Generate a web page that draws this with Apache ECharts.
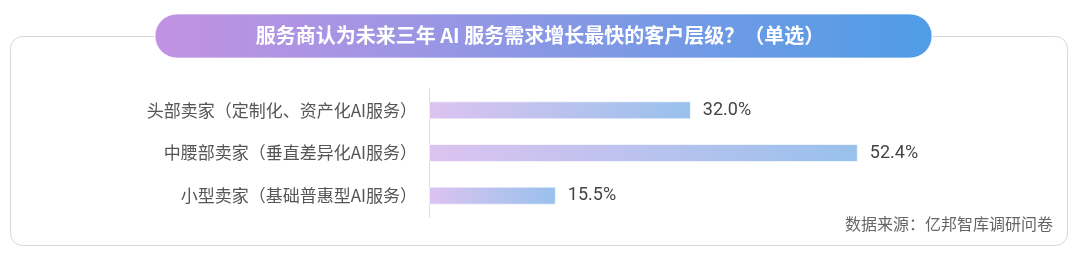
<!DOCTYPE html>
<html>
<head>
<meta charset="utf-8">
<script src="https://cdn.jsdelivr.net/npm/echarts@6/dist/echarts.min.js"></script>
<style>
  html, body { margin: 0; padding: 0; background: #fff; }
  #chart { width: 1080px; height: 256px; }
</style>
</head>
<body>
<div id="chart"></div>
<script>
  // data
  var categories = ['头部卖家（定制化、资产化AI服务）', '中腰部卖家（垂直差异化AI服务）', '小型卖家（基础普惠型AI服务）']
  var shares = [32.0, 52.4, 15.5]
  var titleText = '服务商认为未来三年 AI 服务需求增长最快的客户层级？（单选）'
  var sourceText = '数据来源：亿邦智库调研问卷'

  var chart = echarts.init(document.getElementById('chart'))
  var cjk = '"Noto Sans CJK SC", "Noto Sans", sans-serif'

  chart.setOption({
    animation: false,
    grid: {
      left: 429,
      top: 89,
      width: 491,
      height: 128
    },
    xAxis: {
      type: 'value',
      min: 0,
      max: 60,
      show: false
    },
    yAxis: {
      type: 'category',
      inverse: true,
      data: categories,
      axisLine: { lineStyle: { color: '#dcdcdc', width: 1 } },
      axisTick: { show: false },
      axisLabel: {
        margin: 12,
        fontSize: 17,
        color: '#555',
        fontFamily: cjk
      }
    },
    series: [{
      type: 'bar',
      data: shares,
      barWidth: 18,
      itemStyle: {
        color: new echarts.graphic.LinearGradient(0, 0, 1, 0, [
          { offset: 0, color: '#dcc3f0' },
          { offset: 1, color: '#98c1ec' }
        ]),
        borderColor: 'rgba(255,255,255,0.6)',
        borderWidth: 1
      },
      label: {
        show: true,
        position: 'right',
        distance: 12,
        fontSize: 18,
        color: '#444',
        fontFamily: 'Roboto, sans-serif',
        formatter: function (p) { return p.value.toFixed(1) + '%' }
      }
    }],
    graphic: [
      {
        type: 'rect',
        z: -10,
        shape: { x: 10.5, y: 36.5, width: 1057, height: 209, r: 12 },
        style: { fill: '#fff', stroke: '#d8d8d8', lineWidth: 1 }
      },
      {
        type: 'rect',
        z: 10,
        shape: { x: 155, y: 14, width: 777, height: 44, r: 22 },
        style: {
          fill: new echarts.graphic.LinearGradient(0, 0, 1, 0, [
            { offset: 0, color: '#c292e2' },
            { offset: 1, color: '#4f9de6' }
          ]),
          stroke: 'rgba(255,255,255,0.7)',
          lineWidth: 1
        }
      },
      {
        type: 'text',
        z: 11,
        x: 540,
        y: 35,
        style: {
          text: titleText,
          fill: '#fff',
          font: 'bold 20px ' + cjk,
          align: 'center',
          verticalAlign: 'middle'
        }
      },
      {
        type: 'text',
        x: 1053,
        y: 224,
        style: {
          text: sourceText,
          fill: '#666',
          font: '16px ' + cjk,
          align: 'right',
          verticalAlign: 'middle'
        }
      }
    ]
  })
</script>
</body>
</html>
